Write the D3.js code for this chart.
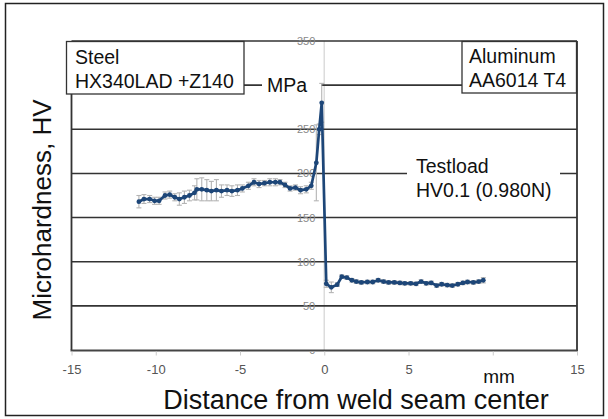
<!DOCTYPE html>
<html>
<head>
<meta charset="utf-8">
<script src="https://cdn.jsdelivr.net/npm/d3@7"></script>
<style>
  html, body { margin: 0; padding: 0; background: #fff; }
  svg { display: block; font-family: "Liberation Sans", Arial, sans-serif; }
</style>
</head>
<body>
<svg id="chart" width="608" height="419"></svg>
<script>
// ---- data ----
const distance = [
  -11.0, -10.7, -10.36, -10.07, -9.8, -9.45, -9.17, -8.87, -8.6, -8.3, -8.0, -7.7, -7.56, -7.27,
  -6.97, -6.7, -6.4, -6.1, -5.77, -5.48, -5.15, -4.86, -4.5, -4.17, -3.87, -3.55, -3.23, -2.9,
  -2.63, -2.33, -2.03, -1.71, -1.41, -1.07, -0.77, -0.47, -0.3, -0.15,
  0.12, 0.42, 0.77, 1.04, 1.34, 1.64, 1.9, 2.2, 2.56, 2.88, 3.2, 3.52, 3.82, 4.16, 4.49, 4.78,
  5.13, 5.45, 5.75, 6.05, 6.35, 6.67, 6.97, 7.3, 7.6, 7.93, 8.23, 8.5, 8.85, 9.17, 9.44
];
const hardness = [
  168, 171, 171, 169, 169, 175, 176, 173, 171, 173, 175, 178, 182, 182,
  181, 180, 181, 180, 181, 180, 181, 183, 186, 190, 188, 189, 190, 190,
  190, 187, 183, 184, 181, 182, 186, 212, 250, 280,
  75, 71, 74, 83, 82, 79, 77.5, 76.5, 77, 77, 79, 77.5, 76.5, 76.5, 76, 75.5,
  75.5, 75, 77.5, 75.5, 76, 73, 74.5, 73.5, 73, 74.5, 76, 77, 76.5, 77.5, 79
];
const hardnessErr = [
  7, 5, 4, 4, 4, 4, 4, 4, 7, 7, 6, 8, 12, 13,
  12, 11, 12, 7, 6, 6, 6, 4, 4, 4, 4, 3, 4, 4,
  3, 3, 3, 3, 4, 4, 4, 43, 6, 22,
  4, 6, 2, 2, 2, 2, 2, 2, 2, 2, 2, 2, 2, 2, 2, 2,
  2, 2, 2, 2, 2, 2, 2, 2, 2, 2, 2, 2, 2, 2, 3
];
const xTicks = [-15, -10, -5, 0, 5, 10, 15];
const xTickLabels = ["-15", "-10", "-5", "0", "5", "", "15"];
const yTicks = [0, 50, 100, 150, 200, 250, 300, 350];
const yTickLabels = ["0", "50", "100", "150", "200", "250", "", "350"];
const yGrid = [50, 100, 150, 200, 250, 300, 350];

const steelLabel = ["Steel", "HX340LAD +Z140"];
const aluLabel = ["Aluminum", "AA6014 T4"];
const unitLabel = "MPa";
const loadLabel = ["Testload", "HV0.1 (0.980N)"];
const xTitle = "Distance from weld seam center";
const xUnit = "mm";
const yTitle = "Microhardness, HV";

// ---- drawing ----
const svg = d3.select("#chart");
const L = 71.5, R = 577, T = 41, B = 350;
const x = d3.scaleLinear().domain([-15, 15]).range([L, R]);
const y = d3.scaleLinear().domain([0, 350]).range([B, T]);
const lineColor = "#1d4678";

// clip so the "0" label only peeks out below the axis, as in the reference
svg.append("defs").append("clipPath").attr("id", "zeroClip")
  .append("rect").attr("x", 280).attr("y", 352).attr("width", 60).attr("height", 6);

// outer frame
svg.append("rect").attr("x", 5.5).attr("y", 3.5).attr("width", 598).attr("height", 412)
  .attr("fill", "none").attr("stroke", "#222").attr("stroke-width", 1.5);

// zero line
svg.append("line").attr("x1", x(0)).attr("x2", x(0)).attr("y1", T).attr("y2", B)
  .attr("stroke", "#dcdcdc").attr("stroke-width", 1.5);

// gridlines
svg.append("g").selectAll("line").data(yGrid).join("line")
  .attr("x1", L).attr("x2", R).attr("y1", d => y(d)).attr("y2", d => y(d))
  .attr("stroke", "#333").attr("stroke-width", 1.6);

// y tick labels (drawn near the zero line)
svg.append("g").selectAll("text").data(yTicks).join("text")
  .attr("x", x(0) - 9).attr("y", d => y(d) + 4)
  .attr("text-anchor", "end").attr("font-size", 11).attr("fill", "#888")
  .attr("clip-path", d => d === 0 ? "url(#zeroClip)" : null)
  .text((d, i) => yTickLabels[i]);

// frame left/right/bottom
svg.append("line").attr("x1", L).attr("x2", L).attr("y1", T).attr("y2", B)
  .attr("stroke", "#333").attr("stroke-width", 1.8);
svg.append("line").attr("x1", R).attr("x2", R).attr("y1", T).attr("y2", B)
  .attr("stroke", "#333").attr("stroke-width", 1.8);
svg.append("line").attr("x1", L - 1).attr("x2", R + 1).attr("y1", B + 0.5).attr("y2", B + 0.5)
  .attr("stroke", "#444").attr("stroke-width", 2.2);

// x axis ticks and labels
const xAxis = d3.axisBottom(x).tickValues(xTicks).tickSize(4).tickPadding(9)
  .tickFormat((d, i) => xTickLabels[i]);
const gx = svg.append("g").attr("transform", `translate(0,${B + 1.5})`).call(xAxis);
gx.select(".domain").remove();
gx.selectAll(".tick line").attr("stroke", "#ccc");
gx.selectAll(".tick text").attr("font-size", 13).attr("fill", "#555")
  .attr("font-family", "'Liberation Sans', Arial, sans-serif");

// text boxes
function box(x0, y0, w, h, stroke) {
  svg.append("rect").attr("x", x0).attr("y", y0).attr("width", w).attr("height", h)
    .attr("fill", "#fff").attr("stroke", stroke ? "#333" : "none").attr("stroke-width", 1.3);
}
box(66.5, 41.5, 177.5, 52.5, true);
box(462, 41.5, 114.5, 51.5, true);
box(262, 76, 59, 18, false);
box(407, 150, 153, 52, false);

const fs = 19.5;
svg.append("g").selectAll("text").data(steelLabel).join("text")
  .attr("x", 75).attr("y", (d, i) => 64 + i * 23.5).attr("font-size", fs).attr("fill", "#111").text(d => d);
svg.append("g").selectAll("text").data(aluLabel).join("text")
  .attr("x", 469).attr("y", (d, i) => 63 + i * 23.5).attr("font-size", fs).attr("fill", "#111").text(d => d);
svg.append("text").attr("x", 267).attr("y", 92).attr("font-size", fs).attr("fill", "#111").text(unitLabel);
svg.append("g").selectAll("text").data(loadLabel).join("text")
  .attr("x", 416).attr("y", (d, i) => 173 + i * 23.5).attr("font-size", fs).attr("fill", "#111").text(d => d);

// axis titles
svg.append("text").attr("x", 356).attr("y", 409).attr("text-anchor", "middle")
  .attr("font-size", 27).attr("fill", "#111").text(xTitle);
svg.append("text").attr("x", 499).attr("y", 383).attr("text-anchor", "middle")
  .attr("font-size", 19).attr("fill", "#111").text(xUnit);
svg.append("text").attr("transform", "translate(51,210) rotate(-90)").attr("text-anchor", "middle")
  .attr("font-size", 26).attr("fill", "#111").text(yTitle);

// data
const pts = distance.map((d, i) => ({ x: d, v: hardness[i], e: hardnessErr[i] }));
const eb = svg.append("g").attr("stroke", "#b4b4b4").attr("stroke-width", 1.1);
pts.forEach(p => {
  eb.append("line").attr("x1", x(p.x)).attr("x2", x(p.x)).attr("y1", y(p.v - p.e)).attr("y2", y(p.v + p.e));
  [p.v - p.e, p.v + p.e].forEach(v => {
    eb.append("line").attr("x1", x(p.x) - 2.5).attr("x2", x(p.x) + 2.5).attr("y1", y(v)).attr("y2", y(v));
  });
});
svg.append("path").datum(pts)
  .attr("d", d3.line().x(p => x(p.x)).y(p => y(p.v)))
  .attr("fill", "none").attr("stroke", lineColor).attr("stroke-width", 2.7).attr("stroke-linejoin", "round");
svg.append("g").selectAll("circle").data(pts).join("circle")
  .attr("cx", p => x(p.x)).attr("cy", p => y(p.v)).attr("r", 2.4).attr("fill", lineColor);
</script>
</body>
</html>
